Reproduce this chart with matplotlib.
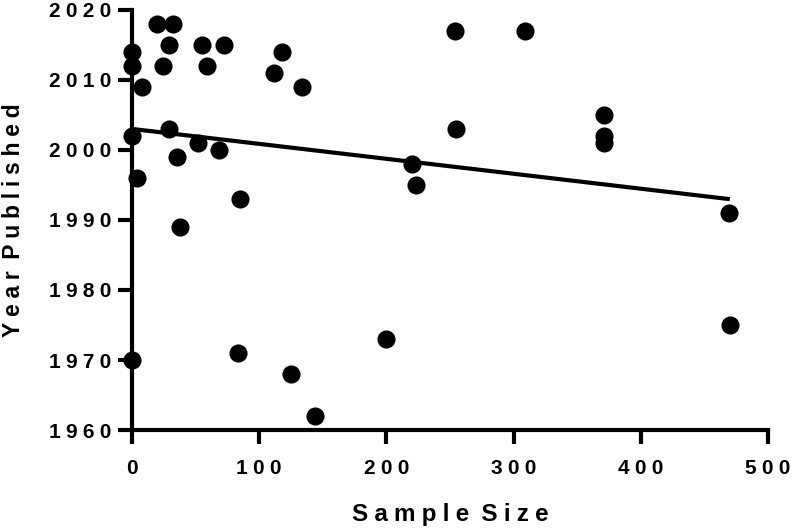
import numpy as np
import matplotlib
matplotlib.use('Agg')
import matplotlib.pyplot as plt
from matplotlib.ticker import FuncFormatter

# sample size vs year published
sample_size = [0, 0, 8, 0, 4, 0,
               20, 32, 24, 29, 29, 35, 38, 52, 55, 59, 68, 72,
               85, 83, 112, 118, 134, 125, 144, 200,
               220, 223, 254, 255, 309, 371, 371, 371, 469, 470]
year = [2014, 2012, 2009, 2002, 1996, 1970,
        2018, 2018, 2012, 2015, 2003, 1999, 1989, 2001, 2015, 2012, 2000, 2015,
        1993, 1971, 2011, 2014, 2009, 1968, 1962, 1973,
        1998, 1995, 2017, 2003, 2017, 2005, 2002, 2001, 1991, 1975]

xticks = [0, 100, 200, 300, 400, 500]
yticks = [1960, 1970, 1980, 1990, 2000, 2010, 2020]

SP = '\u2005'  # letter spacing like the original
def spaced(s, gap='\u2002'):
    return gap.join(SP.join(w) for w in s.split(' '))

plt.rcParams['font.family'] = ['Liberation Sans', 'DejaVu Sans']
plt.rcParams['font.weight'] = 'bold'

fig = plt.figure(figsize=(7.92, 5.31), dpi=100)
ax = fig.add_axes([0.1667, 0.1902, 0.803, 0.791])

ax.scatter(sample_size, year, s=170, color='black', zorder=3, clip_on=False, linewidths=0)

slope, icpt = np.polyfit(sample_size, year, 1)
fx = np.array([min(sample_size), max(sample_size)])
ax.plot(fx, slope * fx + icpt, color='black', lw=3, solid_capstyle='butt', zorder=2)

ax.set_xlim(0, 500)
ax.set_ylim(1960, 2020)
ax.set_xticks(xticks)
ax.set_yticks(yticks)
ax.xaxis.set_major_formatter(FuncFormatter(lambda v, p: spaced(str(int(v)))))
ax.yaxis.set_major_formatter(FuncFormatter(lambda v, p: spaced(str(int(v)))))

for side in ['top', 'right']:
    ax.spines[side].set_visible(False)
for side in ['left', 'bottom']:
    ax.spines[side].set_linewidth(3)
ax.tick_params(axis='both', width=3, length=10, labelsize=15, direction='out')
ax.tick_params(axis='x', pad=11)
ax.tick_params(axis='y', pad=5)

ax.set_xlabel(spaced('Sample Size'), fontsize=17.5, fontweight='bold', labelpad=18)
ax.set_ylabel(spaced('Year Published'), fontsize=16.5, fontweight='bold', labelpad=17)

fig.savefig('out.png', dpi=100)
